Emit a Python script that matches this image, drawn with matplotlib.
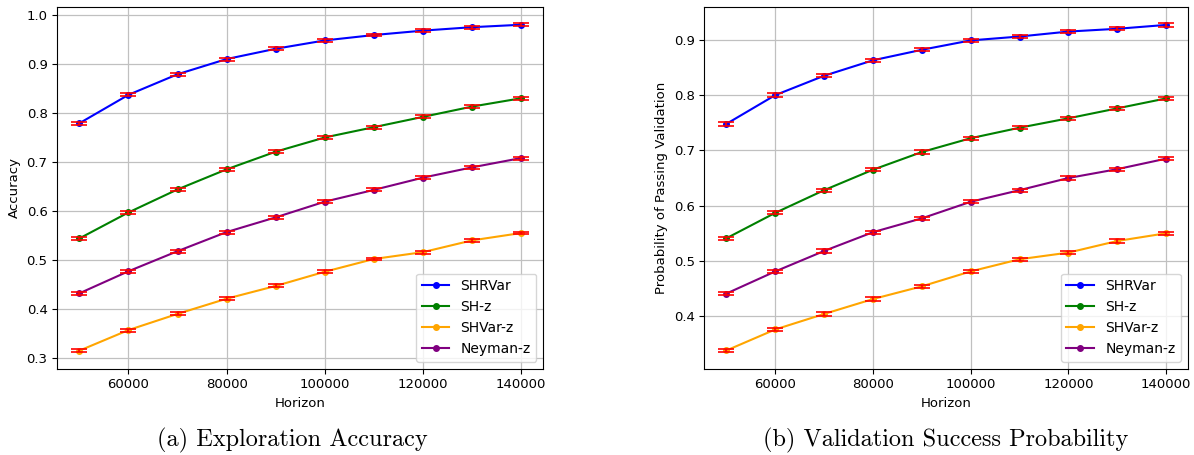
import numpy as np
import matplotlib
matplotlib.use('Agg')
import matplotlib.pyplot as plt

horizons = [50000, 60000, 70000, 80000, 90000, 100000, 110000, 120000, 130000, 140000]
methods = ['SHRVar', 'SH-z', 'SHVar-z', 'Neyman-z']
colors = ['blue', 'green', 'orange', 'purple']

# exploration accuracy per method
acc_shrvar = [0.780, 0.838, 0.880, 0.911, 0.932, 0.949, 0.960, 0.969, 0.976, 0.981]
acc_shz = [0.545, 0.598, 0.645, 0.686, 0.722, 0.751, 0.772, 0.793, 0.814, 0.831]
acc_shvarz = [0.316, 0.358, 0.391, 0.422, 0.448, 0.477, 0.503, 0.517, 0.541, 0.556]
acc_neyman = [0.433, 0.478, 0.519, 0.558, 0.588, 0.620, 0.644, 0.669, 0.690, 0.709]

# probability of passing validation per method
val_shrvar = [0.748, 0.800, 0.835, 0.863, 0.882, 0.899, 0.906, 0.915, 0.920, 0.927]
val_shz = [0.541, 0.587, 0.628, 0.665, 0.697, 0.722, 0.741, 0.758, 0.776, 0.794]
val_shvarz = [0.338, 0.376, 0.404, 0.431, 0.454, 0.481, 0.503, 0.515, 0.536, 0.550]
val_neyman = [0.441, 0.481, 0.518, 0.552, 0.577, 0.607, 0.628, 0.650, 0.666, 0.685]

std_err = 0.003


def draw_panel(ax, series, ylabel):
    for name, vals, c in zip(methods, series, colors):
        ax.plot(horizons, vals, '-o', color=c, markersize=4, label=name)
        ax.errorbar(horizons, vals, yerr=std_err, fmt='none', ecolor='red',
                    capsize=6, capthick=1.4, elinewidth=1.6, alpha=0.85)
    ax.set_xlabel('Horizon', fontsize=9.5)
    ax.set_ylabel(ylabel, fontsize=9.5)
    ax.tick_params(labelsize=9.5)
    ax.grid(True, color='#c0c0c0', linewidth=0.9)
    ax.legend(loc='lower right', fontsize=10)


fig = plt.figure(figsize=(11.94, 4.55), dpi=100)
ax1 = fig.add_axes([0.048, 0.19, 0.407, 0.795])
ax2 = fig.add_axes([0.590, 0.19, 0.405, 0.795])

draw_panel(ax1, [acc_shrvar, acc_shz, acc_shvarz, acc_neyman], 'Accuracy')
draw_panel(ax2, [val_shrvar, val_shz, val_shvarz, val_neyman], 'Probability of Passing Validation')

fig.text(0.245, 0.018, '(a) Exploration Accuracy', ha='center', va='baseline',
         fontsize=17.5, family='cmr10')
fig.text(0.792, 0.018, '(b) Validation Success Probability', ha='center', va='baseline',
         fontsize=17.5, family='cmr10')

fig.savefig('out.png', dpi=100)
